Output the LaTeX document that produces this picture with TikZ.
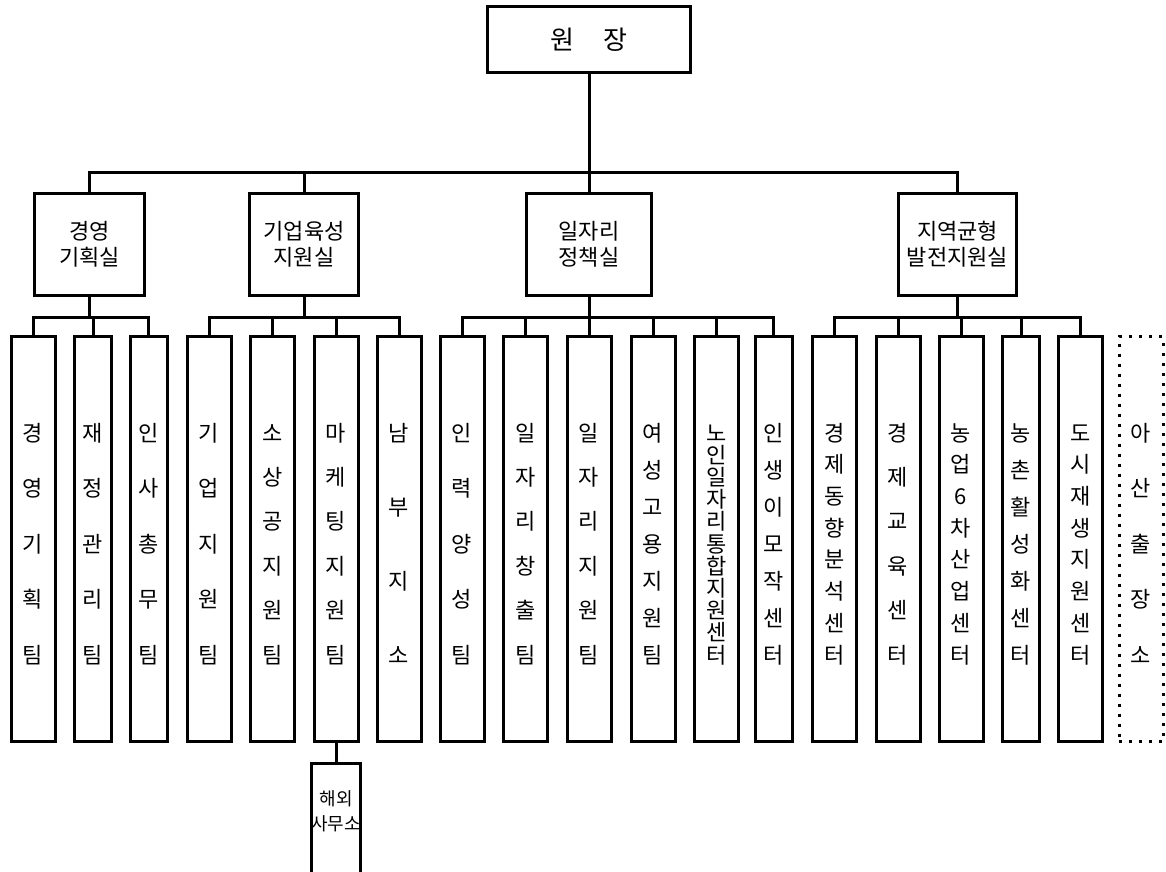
\documentclass[tikz,border=0pt]{standalone}
\usepackage{fontspec}
\newfontfamily\krfont{Noto Sans CJK KR}

% letters of a box spread evenly from top to bottom
\newcommand\spread[1]{%
  \vbox to 250pt{\baselineskip=0pt\lineskip=0pt\lineskiplimit=0pt
    \kern12pt
    \foreach \ch [count=\n] in {#1}{\ifnum\n>1 \vfill\fi
      \hbox to 0pt{\hss\rule[-2pt]{0pt}{18pt}\smash{\ch}\hss}}}}

\begin{document}
\begin{tikzpicture}[
    x=1pt, y=-1pt,
    line width=3pt,
    head/.style={draw, minimum width=203pt, minimum height=66pt, font=\krfont\fontsize{26}{30}\selectfont},
    dept/.style={draw, minimum height=102pt, align=center, font=\krfont\fontsize{22}{26}\selectfont},
    team/.style={draw, minimum width=44pt, minimum height=405pt, inner sep=0pt, font=\krfont\fontsize{22}{24}\selectfont},
    slim/.style={team, minimum width=37pt},
    branch/.style={team, dash pattern=on 3pt off 7pt},
    office/.style={draw, minimum width=45pt, minimum height=110pt, inner sep=0pt, align=center, font=\krfont\fontsize{18}{25}\selectfont}
]
\useasboundingbox (0,0) rectangle (1166,871);

% Director
\node[head] (head) at (589,39.5) {원\hspace{30pt}장};

% Divisions
\node[dept, minimum width=110pt] (d1) at (89.5,244.5) {경영\\기획실};
\node[dept, minimum width=109pt] (d2) at (304,244.5) {기업육성\\지원실};
\node[dept, minimum width=125pt] (d3) at (589,244.5) {일자리\\정책실};
\node[dept, minimum width=118pt] (d4) at (957.5,244.5) {지역균형\\발전지원실};

% Teams of 경영기획실
\node[team] (t1) at (33,539) {\spread{경,영,기,획,팀}};
\node[slim] (t2) at (93,539) {\spread{재,정,관,리,팀}};
\node[slim] (t3) at (148.5,539) {\spread{인,사,총,무,팀}};

% Teams of 기업육성지원실
\node[team] (t4) at (209,539) {\spread{기,업,지,원,팀}};
\node[team] (t5) at (272.5,539) {\spread{소,상,공,지,원,팀}};
\node[team] (t6) at (336,539) {\spread{마,케,팅,지,원,팀}};
\node[team] (t7) at (399,539) {\spread{남,부,지,소}};

% Teams of 일자리정책실
\node[team] (t8) at (462,539) {\spread{인,력,양,성,팀}};
\node[team] (t9) at (525.5,539) {\spread{일,자,리,창,출,팀}};
\node[team] (t10) at (589,539) {\spread{일,자,리,지,원,팀}};
\node[team] (t11) at (653,539) {\spread{여,성,고,용,지,원,팀}};
\node[team] (t12) at (716.5,539) {\spread{노,인,일,자,리,통,합,지,원,센,터}};
\node[slim] (t13) at (773.5,539) {\spread{인,생,이,모,작,센,터}};

% Centres of 지역균형발전지원실
\node[team] (t14) at (834.5,539) {\spread{경,제,동,향,분,석,센,터}};
\node[team] (t15) at (898,539) {\spread{경,제,교,육,센,터}};
\node[team] (t16) at (961,539) {\spread{농,업,6,차,산,업,센,터}};
\node[slim] (t17) at (1021,539) {\spread{농,촌,활,성,화,센,터}};
\node[team] (t18) at (1080.5,539) {\spread{도,시,재,생,지,원,센,터}};

% Branch office, not linked
\node[branch] (t19) at (1141,539) {\spread{아,산,출,장,소}};

% Office abroad
\node[office] (ovs) at (336,818) {해외\\사무소\\[-10pt]};

% Lines
\coordinate (hbar) at (589,172);
\draw (head.south) -- (hbar);
\foreach \d in {d1,d2,d3,d4}
    \draw (\d.north) |- (hbar);

\coordinate (b1) at (89.5,317);
\coordinate (b2) at (304,317);
\coordinate (b3) at (589,317);
\coordinate (b4) at (957.5,317);
\foreach \d/\b in {d1/b1,d2/b2,d3/b3,d4/b4}
    \draw (\d.south) -- (\b);

\foreach \t in {t1,t2,t3}
    \draw (\t.north) |- (b1);
\foreach \t in {t4,t5,t6,t7}
    \draw (\t.north) |- (b2);
\foreach \t in {t8,t9,t10,t11,t12,t13}
    \draw (\t.north) |- (b3);
\foreach \t in {t14,t15,t16,t17,t18}
    \draw (\t.north) |- (b4);

\draw (t6.south) -- (ovs.north);

\end{tikzpicture}
\end{document}
